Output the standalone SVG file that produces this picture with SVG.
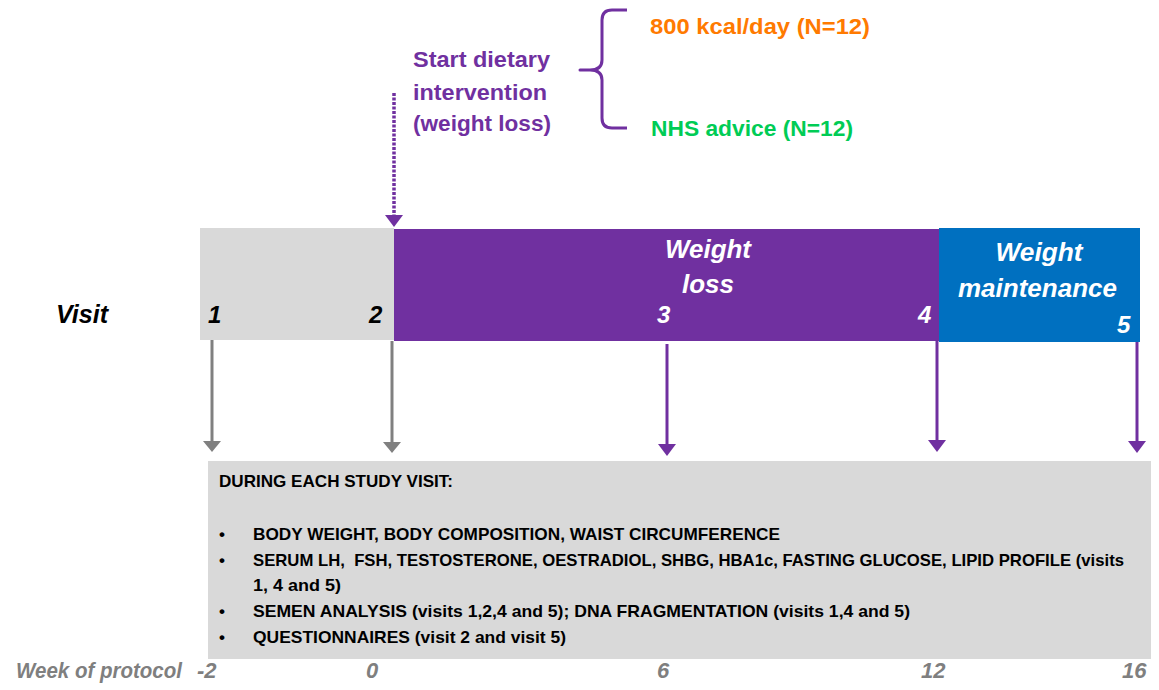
<svg xmlns="http://www.w3.org/2000/svg" width="1159" height="690" viewBox="0 0 1159 690">
<style>
  .t { font-family: "Liberation Sans", Arial, sans-serif; font-weight: bold; }
  .it { font-style: italic; }
  .purple { fill: #7030a0; }
  .num { font-size: 24px; }
  .white { fill: #ffffff; }
  .box { font-size: 17px; fill: #000000; }
  .week { font-size: 22px; fill: #7f7f7f; }
  .conn-grey { stroke: #808080; stroke-width: 3; fill: none; }
  .conn-purple { stroke: #7030a0; stroke-width: 3; fill: none; }
</style>
<rect width="1159" height="690" fill="#ffffff"/>

<!-- Top annotation -->
<g id="start-intervention">
  <text class="t purple" x="413" y="67" font-size="22" textLength="137" lengthAdjust="spacingAndGlyphs">Start dietary</text>
  <text class="t purple" x="413" y="100" font-size="22" textLength="134" lengthAdjust="spacingAndGlyphs">intervention</text>
  <text class="t purple" x="413" y="131" font-size="22" textLength="138" lengthAdjust="spacingAndGlyphs">(weight loss)</text>
</g>
<g id="brace">
  <path d="M627,10 H612 Q602,10 602,20 V60 Q602,70 590,70 H580 H590 Q602,70 602,80 V118 Q602,128 612,128 H627" fill="none" stroke="#7030a0" stroke-width="3" stroke-linejoin="round"/>
</g>
<g id="group-800kcal">
  <text class="t" x="650" y="34" font-size="22" fill="#ff7a00" textLength="220" lengthAdjust="spacingAndGlyphs">800 kcal/day (N=12)</text>
</g>
<g id="group-nhs">
  <text class="t" x="651" y="136" font-size="22" fill="#00cc55" textLength="202" lengthAdjust="spacingAndGlyphs">NHS advice (N=12)</text>
</g>

<!-- Visit label -->
<g id="visit-label">
  <text class="t it" x="56" y="323" font-size="25" fill="#000" textLength="52" lengthAdjust="spacingAndGlyphs">Visit</text>
</g>

<!-- Timeline bars -->
<g id="baseline-bar">
  <rect x="200" y="228" width="194" height="112" fill="#d9d9d9"/>
  <text class="t it num" x="208" y="323" fill="#000">1</text>
  <text class="t it num" x="369" y="323" fill="#000">2</text>
</g>
<g id="weight-loss-bar">
  <rect x="394" y="229" width="545" height="112" fill="#7030a0"/>
  <text class="t it white" x="708" y="258" font-size="26" text-anchor="middle" textLength="86" lengthAdjust="spacingAndGlyphs">Weight</text>
  <text class="t it white" x="708" y="293" font-size="26" text-anchor="middle">loss</text>
  <text class="t it num white" x="657" y="323">3</text>
  <text class="t it num white" x="918" y="323">4</text>
</g>
<g id="weight-maintenance-bar">
  <rect x="939" y="228" width="201" height="114" fill="#0070c0"/>
  <text class="t it white" x="1039" y="261" font-size="26" text-anchor="middle" textLength="87" lengthAdjust="spacingAndGlyphs">Weight</text>
  <text class="t it white" x="958" y="297" font-size="26" textLength="159" lengthAdjust="spacingAndGlyphs">maintenance</text>
  <text class="t it num white" x="1117" y="333">5</text>
</g>

<!-- Connectors -->
<g id="connectors">
  <line x1="394" y1="93" x2="394" y2="215" stroke="#7030a0" stroke-width="3.5" stroke-dasharray="3 1.5"/>
  <polygon points="385,215 403,215 394,227" fill="#7030a0"/>

  <line class="conn-grey" x1="212" y1="340" x2="212" y2="442"/>
  <polygon points="203,441 221,441 212,452" fill="#808080"/>
  <line class="conn-grey" x1="392" y1="341" x2="392" y2="443"/>
  <polygon points="383,442 401,442 392,453" fill="#808080"/>
  <line class="conn-purple" x1="667" y1="344" x2="667" y2="445"/>
  <polygon points="658,444 676,444 667,456" fill="#7030a0"/>
  <line class="conn-purple" x1="937" y1="341" x2="937" y2="441"/>
  <polygon points="928,440 946,440 937,452" fill="#7030a0"/>
  <line class="conn-purple" x1="1137" y1="342" x2="1137" y2="442"/>
  <polygon points="1128,441 1146,441 1137,453" fill="#7030a0"/>
</g>

<!-- Study visit box -->
<g id="study-visit-box">
  <rect x="208" y="461" width="943" height="198" fill="#d9d9d9"/>
  <text class="t box" x="219" y="487" textLength="234" lengthAdjust="spacingAndGlyphs">DURING EACH STUDY VISIT:</text>
  <text class="t box" x="219" y="540">•</text>
  <text class="t box" x="253" y="540" textLength="527" lengthAdjust="spacingAndGlyphs">BODY WEIGHT, BODY COMPOSITION, WAIST CIRCUMFERENCE</text>
  <text class="t box" x="219" y="566">•</text>
  <text class="t box" x="253" y="566" xml:space="preserve" textLength="871" lengthAdjust="spacingAndGlyphs">SERUM LH,  FSH, TESTOSTERONE, OESTRADIOL, SHBG, HBA1c, FASTING GLUCOSE, LIPID PROFILE (visits</text>
  <text class="t box" x="253" y="591" textLength="88" lengthAdjust="spacingAndGlyphs">1, 4 and 5)</text>
  <text class="t box" x="219" y="617">•</text>
  <text class="t box" x="253" y="617" textLength="657" lengthAdjust="spacingAndGlyphs">SEMEN ANALYSIS (visits 1,2,4 and 5); DNA FRAGMENTATION (visits 1,4 and 5)</text>
  <text class="t box" x="219" y="643">•</text>
  <text class="t box" x="253" y="643" textLength="313" lengthAdjust="spacingAndGlyphs">QUESTIONNAIRES (visit 2 and visit 5)</text>
</g>

<!-- Week axis -->
<g id="week-axis">
  <text class="t it week" x="16" y="678" textLength="166" lengthAdjust="spacingAndGlyphs">Week of protocol</text>
  <text class="t it week" x="197" y="678">-2</text>
  <text class="t it week" x="366" y="678">0</text>
  <text class="t it week" x="657" y="678">6</text>
  <text class="t it week" x="921" y="678">12</text>
  <text class="t it week" x="1122" y="678">16</text>
</g>
</svg>
